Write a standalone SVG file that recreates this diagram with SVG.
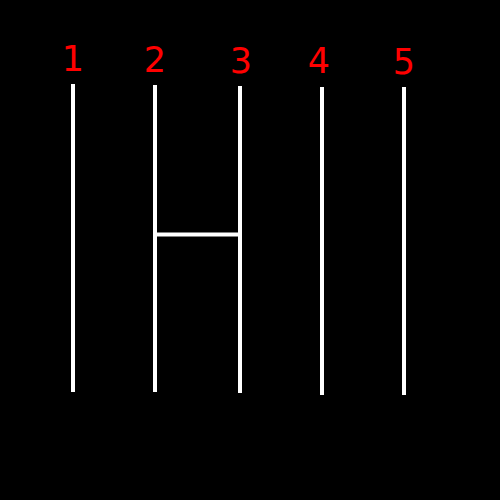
<svg xmlns="http://www.w3.org/2000/svg" width="500" height="500" viewBox="0 0 500 500">
<style>
.ln{stroke:#fff;stroke-width:4;fill:none}
.lb{fill:#ff0000;font-family:"DejaVu Sans","Liberation Sans",sans-serif;font-size:35px;text-anchor:middle}
</style>
<rect width="500" height="500" fill="#000"/>
<g id="connectors">
<line class="ln" x1="155" y1="234.5" x2="240" y2="234.5"/>
</g>
<g id="n1"><line class="ln" x1="73" y1="84" x2="73" y2="392"/><text class="lb" x="73" y="71">1</text></g>
<g id="n2"><line class="ln" x1="155" y1="85" x2="155" y2="392"/><text class="lb" x="155" y="72">2</text></g>
<g id="n3"><line class="ln" x1="240" y1="86" x2="240" y2="393"/><text class="lb" x="241" y="73">3</text></g>
<g id="n4"><line class="ln" x1="322" y1="87" x2="322" y2="395"/><text class="lb" x="319" y="73">4</text></g>
<g id="n5"><line class="ln" x1="404" y1="87" x2="404" y2="395"/><text class="lb" x="404" y="74">5</text></g>
</svg>
